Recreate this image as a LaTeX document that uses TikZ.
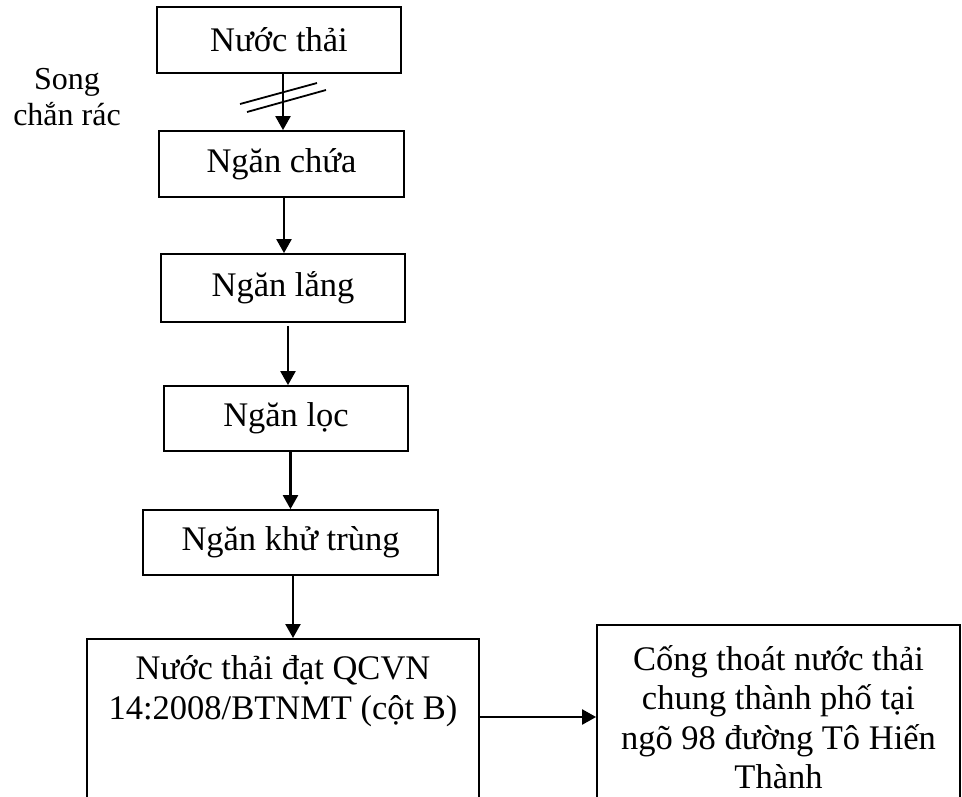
\documentclass[tikz,border=0pt]{standalone}
\usepackage{fontspec}
\setmainfont{Liberation Serif}
\usetikzlibrary{arrows.meta}

\begin{document}
\begin{tikzpicture}[x=1pt, y=-1pt,
  txt/.style={align=center, inner sep=0pt, font=\fontsize{34.5}{39.5}\selectfont},
  box/.style={txt, draw, line width=1.8pt},
  flow/.style={line width=2.3pt, -{Triangle[length=14pt,width=15pt]}}]
\useasboundingbox (0,0) rectangle (962,796);
\clip (0,0) rectangle (962,796);
\node[box, minimum width=244pt, minimum height=66pt] (nuoc) at (279,40) {Nước thải};
\node[box, minimum width=245pt, minimum height=66pt] (chua) at (281.5,164) {Ngăn chứa};
\node[box, minimum width=244pt, minimum height=68pt] (lang) at (283,288) {Ngăn lắng};
\node[box, minimum width=244pt, minimum height=65pt] (loc) at (286,418.5) {Ngăn lọc};
\node[box, minimum width=295pt, minimum height=65pt] (khu) at (290.5,542.5) {Ngăn khử trùng};
\node[box, minimum width=392pt, minimum height=180pt, anchor=north] (dat) at (283,638) {};
\node[txt] (dattext) at ([yshift=-53pt]dat.north) {Nước thải đạt QCVN\\14:2008/BTNMT (cột B)};
\node[box, minimum width=363pt, minimum height=184pt] (cong) at (778.5,717) {Cống thoát nước thải\\chung thành phố tại\\ngõ 98 đường Tô Hiến\\Thành};
\node[align=center, font=\fontsize{32}{36}\selectfont] (song) at (67,97) {Song\\chắn rác};
\draw[flow] ([xshift=1.5pt]chua.north |- nuoc.south) -- ([xshift=1.5pt]chua.north);
\draw[line width=1.8pt] (240,104) -- (317,83) (247,112) -- (326,90);
\draw[flow] ([xshift=1pt]lang.north |- chua.south) -- ([xshift=1pt]lang.north);
\draw[flow] ([xshift=2pt,yshift=-3pt]loc.north |- lang.south) -- ([xshift=2pt]loc.north);
\draw[flow] (khu.north |- loc.south) -- (khu.north);
\draw[flow] ([xshift=2.5pt]khu.south) -- ([xshift=2.5pt]khu.south |- dat.north);
\draw[flow] (dat.east |- cong.west) -- (cong.west);
\end{tikzpicture}
\end{document}
